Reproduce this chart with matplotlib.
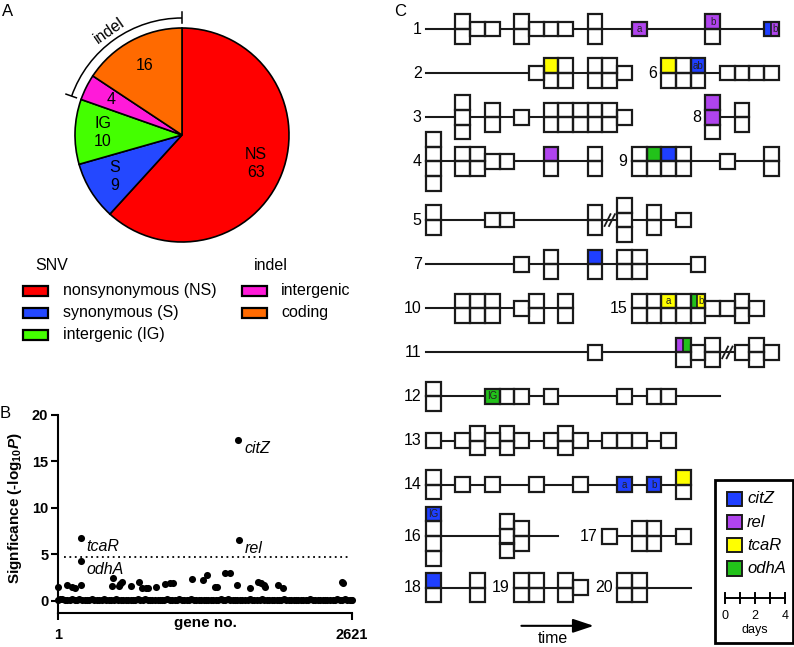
import matplotlib
matplotlib.use('Agg')
import matplotlib.pyplot as plt
from matplotlib.patches import Rectangle, Arc
import numpy as np

plt.rcParams['font.family'] = ['Liberation Sans', 'DejaVu Sans']
plt.rcParams['mathtext.fontset'] = 'custom'
plt.rcParams['mathtext.rm'] = 'Liberation Sans:bold'
plt.rcParams['mathtext.bf'] = 'Liberation Sans:bold'
plt.rcParams['mathtext.it'] = 'Liberation Sans:bold:italic'

# ---- panel A data ----
pie_names = ['NS', 'S', 'IG', '', '']
pie_counts = [63, 9, 10, 4, 16]
pie_colors = ['#ff0000', '#2448ff', '#44ff00', '#ff1ad9', '#ff6a00']
snv_names = ['nonsynonymous (NS)', 'synonymous (S)', 'intergenic (IG)']
indel_names = ['intergenic', 'coding']

# ---- panel B data ----
base_genes = [1, 40, 85, 130, 170, 215, 260, 300, 345, 390, 430, 475, 520, 560, 605, 650,
              690, 735, 780, 820, 865, 910, 950, 995, 1040, 1080, 1125, 1170, 1210, 1255,
              1300, 1340, 1385, 1430, 1470, 1515, 1560, 1600, 1645, 1690, 1730, 1775, 1820,
              1860, 1905, 1950, 1990, 2035, 2080, 2120, 2165, 2210, 2250, 2295, 2340, 2380,
              2425, 2470, 2510, 2555, 2600, 2621]
base_vals = [0.1, 0.2, 0.05, 0.25, 0.1, 0.15, 0.05, 0.2, 0.1, 0.05, 0.15, 0.1, 0.2, 0.05,
             0.1, 0.15, 0.05, 0.1, 0.2, 0.1, 0.05, 0.15, 0.1, 0.05, 0.1, 0.2, 0.1, 0.05,
             0.15, 0.1, 0.05, 0.1, 0.15, 0.05, 0.1, 0.2, 0.1, 0.05, 0.15, 0.1, 0.05, 0.1,
             0.25, 0.1, 0.05, 0.15, 0.1, 0.05, 0.1, 0.15, 0.05, 0.1, 0.2, 0.1, 0.05, 0.1,
             0.15, 0.05, 0.1, 0.2, 0.1, 0.05]
base_genes2 = [20, 62, 108, 150, 192, 238, 280, 322, 368, 410, 452, 498, 540, 582, 628, 670,
               712, 758, 800, 842, 888, 930, 972, 1018, 1060, 1102, 1148, 1190, 1232, 1278,
               1320, 1362, 1408, 1450, 1492, 1538, 1580, 1622, 1668, 1710, 1752, 1798, 1840,
               1882, 1928, 1970, 2012, 2058, 2100, 2142, 2188, 2230, 2272, 2318, 2360, 2402,
               2448, 2490, 2532, 2578, 2610]
base_vals2 = [0.2, 0.05, 0.15, 0.1, 0.2, 0.05, 0.1, 0.15, 0.05, 0.2, 0.1, 0.05, 0.1, 0.15,
              0.05, 0.1, 0.2, 0.05, 0.1, 0.15, 0.1, 0.05, 0.2, 0.1, 0.15, 0.05, 0.1, 0.2,
              0.05, 0.1, 0.15, 0.05, 0.1, 0.2, 0.05, 0.1, 0.15, 0.1, 0.05, 0.2, 0.1, 0.05,
              0.1, 0.15, 0.1, 0.05, 0.2, 0.1, 0.05, 0.1, 0.15, 0.05, 0.1, 0.05, 0.15, 0.1,
              0.05, 0.2, 0.1, 0.05, 0.15]
mid_genes = [4, 78, 122, 152, 203, 479, 494, 545, 555, 570, 649, 720, 747, 785, 806, 874,
             955, 999, 1023, 1192, 1296, 1326, 1400, 1420, 1489, 1534, 1594, 1712, 1787,
             1808, 1837, 1850, 1964, 2003, 2529, 2541]
mid_vals = [1.5, 1.75, 1.45, 1.4, 1.75, 1.65, 2.45, 1.6, 1.85, 2.05, 1.6, 2.05, 1.35, 1.35,
            1.35, 1.5, 1.8, 1.9, 1.9, 2.4, 2.25, 2.8, 1.55, 1.55, 2.95, 2.95, 1.75, 1.4,
            2.05, 1.95, 1.75, 1.45, 1.75, 1.4, 2.05, 1.95]
hit_names = ['citZ', 'rel', 'tcaR', 'odhA']
hit_genes = [1609, 1614, 203, 203]
hit_vals = [17.3, 6.5, 6.8, 4.3]
threshold = 4.75
n_genes = 2621

# ---- panel C data: (name, row, line start, line end, columns (day, cells top->bottom), breaks)
lineages = [
    ('1', 0, 0, 23.5, [(2, 'w w'), (3, 'w'), (4, 'w'), (6, 'w w'), (7, 'w'), (8, 'w'), (9, 'w'),
                       (11, 'w w'), (14, 'P:a'), (19, 'P:b w'), (23, 'B|P:b')], []),
    ('2', 3, 0, 13.5, [(7, 'w'), (8, 'Y w'), (9, 'w w'), (11, 'w w'), (12, 'w w'), (13, 'w')], []),
    ('6', 3, 16, 23.5, [(16, 'Y w'), (17, 'w w'), (18, 'B:ab w'), (20, 'w'), (21, 'w'),
                        (22, 'w'), (23, 'w')], []),
    ('3', 6, 0, 13.5, [(2, 'w w w'), (4, 'w w'), (6, 'w'), (8, 'w w'), (9, 'w w'), (10, 'w w'),
                       (11, 'w w'), (12, 'w w'), (13, 'w')], []),
    ('8', 6, 19, 21.5, [(19, 'P P w'), (21, 'w w')], []),
    ('4', 9, 0, 11.5, [(0, 'w w w w'), (2, 'w w'), (3, 'w w'), (4, 'w'), (5, 'w'), (8, 'P w'),
                       (11, 'w w')], []),
    ('9', 9, 14, 23.5, [(14, 'w w'), (15, 'G w'), (16, 'B w'), (17, 'w w'), (20, 'w'),
                        (23, 'w w')], []),
    ('5', 13, 0, 17.5, [(0, 'w w'), (4, 'w'), (5, 'w'), (11, 'w w'), (13, 'w w w'), (15, 'w w'),
                        (17, 'w')], [12.5]),
    ('7', 16, 0, 18.5, [(6, 'w'), (8, 'w w'), (11, 'B w'), (13, 'w w'), (14, 'w w'), (18, 'w')], []),
    ('10', 19, 0, 9.5, [(2, 'w w'), (3, 'w w'), (4, 'w w'), (6, 'w'), (7, 'w w'), (9, 'w w')], []),
    ('15', 19, 14, 22.5, [(14, 'w w'), (15, 'w w'), (16, 'Y:a w'), (17, 'w w'), (18, 'G|Y:b w'),
                          (19, 'w'), (20, 'w'), (21, 'w w'), (22, 'w')], []),
    ('11', 22, 0, 23.5, [(11, 'w'), (17, 'P|G w'), (18, 'w'), (19, 'w w'), (21, 'w'),
                         (22, 'w w'), (23, 'w')], [20.5]),
    ('12', 25, 0, 20, [(0, 'w w'), (4, 'G:IG'), (5, 'w'), (6, 'w'), (8, 'w'), (13, 'w'),
                       (15, 'w'), (16, 'w')], []),
    ('13', 28, 0, 16.5, [(0, 'w'), (2, 'w'), (3, 'w w'), (4, 'w'), (5, 'w w'), (6, 'w'), (8, 'w'),
                         (9, 'w w'), (10, 'w'), (12, 'w'), (13, 'w'), (14, 'w'), (16, 'w')], []),
    ('14', 31, 0, 17.5, [(0, 'w w'), (2, 'w'), (4, 'w'), (7, 'w'), (10, 'w'), (13, 'B:a'),
                         (15, 'B:b'), (17, 'Y w')], []),
    ('16', 34.5, 0, 9, [(0, 'B:IG w w w'), (5, 'w w w'), (6, 'w w')], []),
    ('17', 34.5, 12, 17.5, [(12, 'w'), (14, 'w w'), (15, 'w w'), (17, 'w')], []),
    ('18', 38, 0, 3.5, [(0, 'B w'), (3, 'w w')], []),
    ('19', 38, 6, 10.5, [(6, 'w w'), (7, 'w w'), (9, 'w w'), (10, 'w')], []),
    ('20', 38, 13, 18, [(13, 'w w'), (14, 'w w')], []),
]
gene_names = ['citZ', 'rel', 'tcaR', 'odhA']
gene_codes = ['B', 'P', 'Y', 'G']
cell_colors = {'w': 'white', 'B': '#1f3fff', 'P': '#b044ee', 'Y': '#ffff00', 'G': '#22c21a'}
scale_days = [0, 1, 2, 3, 4]

W, H = 794, 647
fig = plt.figure(figsize=(W / 100, H / 100), dpi=100)


def px_axes(x0, y0, x1, y1):
    ax = fig.add_axes([x0 / W, 1 - y1 / H, (x1 - x0) / W, (y1 - y0) / H])
    ax.patch.set_visible(False)
    return ax


# overlay for free text
ov = px_axes(0, 0, W, H)
ov.set_xlim(0, W)
ov.set_ylim(H, 0)
ov.axis('off')
ov.text(2, 12, 'A', fontsize=12, va='center')
ov.text(0, 413, 'B', fontsize=12, va='center')
ov.text(394, 12, 'C', fontsize=12, va='center')

# ---------------- panel A ----------------
axA = px_axes(52, 5, 312, 265)
axA.pie(pie_counts, colors=pie_colors, radius=107, startangle=90, counterclock=False,
        wedgeprops=dict(edgecolor='black', linewidth=1.2))
axA.set_xlim(-130, 130)
axA.set_ylim(-130, 130)
axA.set_aspect('equal')
total = sum(pie_counts)
cum = 0
for nm, c in zip(pie_names, pie_counts):
    mid = np.deg2rad(90 - (cum + c / 2) / total * 360)
    cum += c
    lab = (nm + '\n' + str(c)) if nm else str(c)
    axA.text(0.74 * 107 * np.cos(mid), 0.74 * 107 * np.sin(mid), lab, ha='center',
             va='center', fontsize=11.5)
# indel bracket
a_end = 90 + (pie_counts[3] + pie_counts[4]) / total * 360
axA.add_patch(Arc((0, 0), 234, 234, theta1=90, theta2=a_end, lw=1.1, color='black'))
for a in (90, a_end):
    r = np.deg2rad(a)
    axA.plot([112 * np.cos(r), 123 * np.cos(r)], [112 * np.sin(r), 123 * np.sin(r)],
             color='black', lw=1.1)
a_mid = (90 + a_end) / 2 - 0.5
axA.text(127 * np.cos(np.deg2rad(a_mid)), 127 * np.sin(np.deg2rad(a_mid)), 'indel',
         rotation=a_mid - 90, ha='center', va='center', fontsize=11.5)

# legend A
ov.text(35, 266, 'SNV', fontsize=11.5, va='center')
ov.text(254, 266, 'indel', fontsize=11.5, va='center')
for i, nm in enumerate(snv_names):
    y = 291 + 22 * i
    ov.add_patch(Rectangle((23, y - 5), 25, 10, facecolor=pie_colors[i], edgecolor='black', lw=1.6))
    ov.text(63, y, nm, fontsize=11.5, va='center')
for i, nm in enumerate(indel_names):
    y = 291 + 22 * i
    ov.add_patch(Rectangle((242, y - 5), 25, 10, facecolor=pie_colors[3 + i], edgecolor='black', lw=1.6))
    ov.text(281, y, nm, fontsize=11.5, va='center')

# ---------------- panel B ----------------
axB = px_axes(58, 415, 352, 613)
dot = dict(s=26, color='black', linewidths=0, clip_on=False, zorder=3)
axB.scatter(base_genes, base_vals, **dot)
axB.scatter(base_genes2, base_vals2, **dot)
axB.scatter(mid_genes, mid_vals, **dot)
axB.scatter(hit_genes, hit_vals, **dot)
for nm, g, v in zip(hit_names, hit_genes, hit_vals):
    axB.annotate(nm, (g, v), xytext=(4, -6), textcoords='offset points', fontsize=11.5,
                 style='italic', va='center', ha='left')
axB.axhline(threshold, xmin=0.02, xmax=0.985, color='black', lw=1.3, ls=(0, (1, 2)))
axB.set_xlim(1, n_genes)
axB.set_ylim(-1.3, 20)
for s in ('top', 'right'):
    axB.spines[s].set_visible(False)
for s in ('left', 'bottom'):
    axB.spines[s].set_linewidth(1.5)
axB.set_yticks([0, 5, 10, 15, 20])
axB.set_xticks([1, n_genes])
axB.tick_params(width=1.5, length=5, labelsize=10.5, pad=2)
axB.tick_params(axis='x', pad=6)
for t in axB.get_xticklabels() + axB.get_yticklabels():
    t.set_fontweight('bold')
ov.text(205, 623, 'gene no.', fontsize=11, fontweight='bold', ha='center', va='center')
ov.text(15, 508, r'Signficance (-log$_{10}$$\mathit{P}$)', fontsize=11, fontweight='bold',
        rotation=90, ha='center', va='center')

# ---------------- panel C ----------------
u = 14.7
axC = px_axes(390, 0, W, H)
axC.set_xlim(-36 / u, (W - 426) / u)
axC.set_ylim((H - 29) / u, -29 / u)
axC.axis('off')


def draw_cell(x, y, spec):
    parts = spec.split(':')
    cols = parts[0].split('|')
    label = parts[1] if len(parts) > 1 else ''
    fr = [1.0] if len(cols) == 1 else ([0.45, 0.55] if cols[0] == 'G' else [0.5, 0.5])
    x0 = x
    for c, f in zip(cols, fr):
        axC.add_patch(Rectangle((x0, y), f, 1, facecolor=cell_colors[c], edgecolor='none', zorder=3))
        lx = x0 + f / 2
        x0 += f
    if len(cols) > 1:
        axC.plot([x + fr[0], x + fr[0]], [y, y + 1], color='#1a1a1a', lw=1.2, zorder=4)
    axC.add_patch(Rectangle((x, y), 1, 1, facecolor='none', edgecolor='#1a1a1a', lw=1.6, zorder=4))
    if label:
        axC.text(lx, y + 0.5, label, ha='center', va='center', fontsize=7, color='#222222', zorder=5)


for name, row, x0, x1, columns, breaks in lineages:
    axC.plot([x0, x1], [row, row], color='#1a1a1a', lw=1.5, zorder=2)
    first = min(x0, columns[0][0])
    axC.text(first - 0.3, row, name, ha='right', va='center', fontsize=11.5)
    for day, cells in columns:
        cl = cells.split()
        top = row - len(cl) / 2
        for k, spec in enumerate(cl):
            draw_cell(day, top + k, spec)
    for b in breaks:
        for dx in (-0.15, 0.15):
            axC.plot([b + dx - 0.2, b + dx + 0.2], [row + 0.4, row - 0.4], color='#1a1a1a',
                     lw=1.3, zorder=3)

# time arrow
axC.annotate('', xy=(11.6, 40.6), xytext=(6.3, 40.6),
             arrowprops=dict(arrowstyle='-|>,head_length=0.9,head_width=0.3', lw=1.5,
                             color='black', mutation_scale=14))
axC.text(8.6, 41.45, 'time', ha='center', va='center', fontsize=11.5)

# legend box
axC.add_patch(Rectangle((19.66, 30.7), 5.3, 11.1, facecolor='none', edgecolor='black', lw=2,
                        clip_on=False))
for i, (g, c) in enumerate(zip(gene_names, gene_codes)):
    yc = 31.97 + 1.57 * i
    axC.add_patch(Rectangle((20.48, yc - 0.5), 1.02, 1.0, facecolor=cell_colors[c],
                            edgecolor='#1a1a1a', lw=1.4))
    axC.text(21.84, yc, g, style='italic', fontsize=12, va='center', ha='left')
sx0 = 20.34
step = 15 / u
axC.plot([sx0, sx0 + step * scale_days[-1]], [38.7, 38.7], color='black', lw=1.4)
for d in scale_days:
    axC.plot([sx0 + step * d] * 2, [38.35, 39.05], color='black', lw=1.4)
    if d % 2 == 0:
        axC.text(sx0 + step * d, 39.93, str(d), ha='center', va='center', fontsize=9)
axC.text(sx0 + step * 2, 40.9, 'days', ha='center', va='center', fontsize=9)

fig.savefig('out.png', dpi=100)
